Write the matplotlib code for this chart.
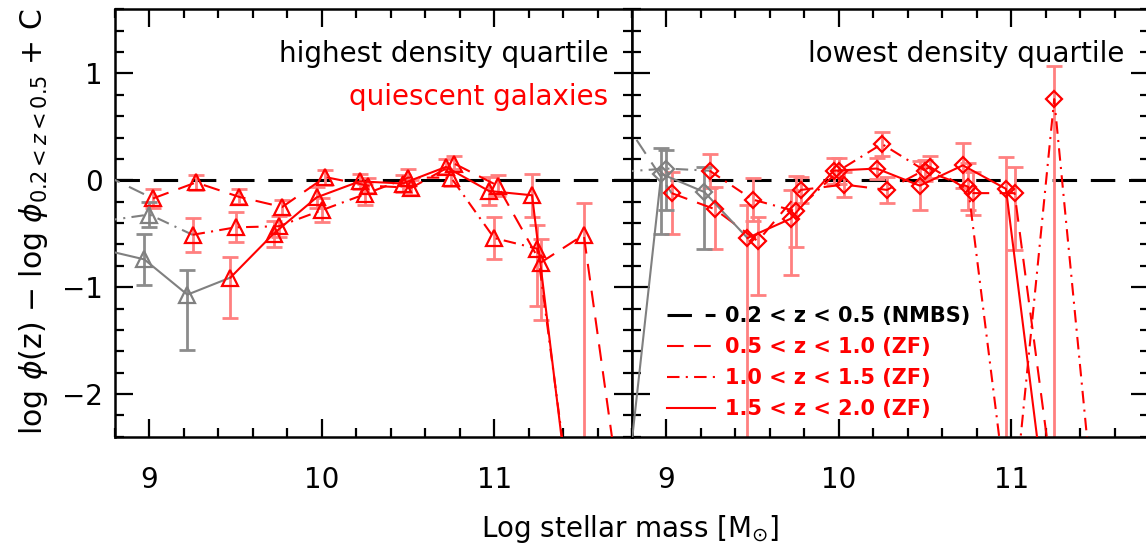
import matplotlib
matplotlib.use('Agg')
import matplotlib.pyplot as plt
import numpy as np
from matplotlib.ticker import MultipleLocator, FixedLocator

plt.rcParams['font.family'] = ['DejaVu Sans']
plt.rcParams['mathtext.fontset'] = 'dejavusans'

# ---------------- data ----------------
series_labels = ['0.5 < z < 1.0 (ZF)', '1.0 < z < 1.5 (ZF)', '1.5 < z < 2.0 (ZF)']
ref_label = '0.2 < z < 0.5 (NMBS)'

# highest density quartile (left panel)
hi_dash_x = [8.74, 9.02, 9.27, 9.52, 9.77, 10.02, 10.27, 10.52, 10.77, 11.02, 11.27, 11.52, 11.77]
hi_dash_y = [0.05, -0.17, -0.02, -0.155, -0.25, 0.03, -0.05, -0.07, 0.155, -0.05, -0.77, -0.51, -3.4]
hi_dash_lo = [0.1, 0.09, 0.07, 0.07, 0.07, 0.07, 0.07, 0.07, 0.07, 0.1, 0.54, 3.0, 0.3]
hi_dash_hi = [0.1, 0.09, 0.07, 0.07, 0.07, 0.07, 0.07, 0.07, 0.07, 0.1, 0.22, 0.30, 0.3]
hi_dash_gray = [1, 0, 0, 0, 0, 0, 0, 0, 0, 0, 0, 0, 0]

hi_dd_x = [8.74, 9.0, 9.25, 9.5, 9.75, 10.0, 10.25, 10.5, 10.75, 11.0, 11.25, 11.5]
hi_dd_y = [-0.38, -0.32, -0.51, -0.44, -0.43, -0.28, -0.13, 0.025, 0.025, -0.54, -0.64, -3.7]
hi_dd_lo = [0.1, 0.12, 0.16, 0.14, 0.1, 0.11, 0.1, 0.08, 0.08, 0.2, 0.54, 0.3]
hi_dd_hi = [0.1, 0.12, 0.16, 0.14, 0.1, 0.11, 0.1, 0.08, 0.08, 0.2, 0.22, 0.3]
hi_dd_gray = [1, 1, 0, 0, 0, 0, 0, 0, 0, 0, 0, 0]

hi_sol_x = [8.72, 8.97, 9.22, 9.47, 9.72, 9.97, 10.22, 10.47, 10.72, 10.97, 11.22, 11.47]
hi_sol_y = [-0.645, -0.74, -1.07, -0.91, -0.5, -0.16, -0.01, -0.03, 0.125, -0.1, -0.14, -3.45]
hi_sol_lo = [0.1, 0.24, 0.52, 0.38, 0.12, 0.1, 0.07, 0.08, 0.07, 0.13, 0.2, 0.3]
hi_sol_hi = [0.1, 0.24, 0.23, 0.19, 0.12, 0.1, 0.07, 0.08, 0.07, 0.13, 0.2, 0.3]
hi_sol_gray = [1, 1, 1, 0, 0, 0, 0, 0, 0, 0, 0, 0]

# lowest density quartile (right panel)
lo_dash_x = [8.74, 9.03, 9.28, 9.53, 9.78, 10.03, 10.28, 10.53, 10.78, 11.02, 11.28]
lo_dash_y = [0.59, -0.12, -0.27, -0.57, -0.09, -0.04, -0.09, 0.125, -0.12, -0.12, -3.3]
lo_dash_lo = [0.1, 0.38, 0.37, 0.5, 0.12, 0.12, 0.12, 0.1, 0.2, 0.53, 0.3]
lo_dash_hi = [0.1, 0.2, 0.21, 0.23, 0.12, 0.12, 0.12, 0.1, 0.2, 0.24, 0.3]
lo_dash_gray = [1, 0, 0, 0, 0, 0, 0, 0, 0, 0, 0]

lo_dd_x = [8.74, 9.0, 9.25, 9.5, 9.75, 10.0, 10.25, 10.5, 10.75, 11.0, 11.25, 11.5]
lo_dd_y = [0.08, 0.11, 0.09, -0.18, -0.29, 0.09, 0.34, 0.09, -0.06, -3.3, 0.76, -3.4]
lo_dd_lo = [0.1, 0.39, 0.16, 0.2, 0.33, 0.12, 0.11, 0.1, 0.22, 0.3, 3.5, 0.3]
lo_dd_hi = [0.1, 0.17, 0.16, 0.2, 0.33, 0.12, 0.11, 0.1, 0.22, 0.3, 0.31, 0.3]
lo_dd_gray = [1, 1, 0, 0, 0, 0, 0, 0, 0, 0, 0, 0]

lo_sol_x = [8.72, 8.97, 9.22, 9.47, 9.72, 9.97, 10.22, 10.47, 10.72, 10.97, 11.22]
lo_sol_y = [-3.6, 0.06, -0.11, -0.54, -0.36, 0.09, 0.11, -0.05, 0.14, -0.08, -3.3]
lo_sol_lo = [0.3, 0.56, 0.53, 3.0, 0.53, 0.12, 0.1, 0.23, 0.21, 3.0, 0.3]
lo_sol_hi = [0.3, 0.24, 0.23, 0.31, 0.27, 0.12, 0.1, 0.23, 0.21, 0.30, 0.3]
lo_sol_gray = [1, 1, 1, 0, 0, 0, 0, 0, 0, 0, 0]

x_ticks = [9, 10, 11]
x_ticklabels = ['9', '10', '11']
y_ticks = [-2, -1, 0, 1]
y_ticklabels = ['\u22122', '\u22121', '0', '1']

# ---------------- style ----------------
RED = '#ff0000'
RED_ERR = '#ff8080'
GRAY = '#808080'
GRAY_ERR = '#8c8c8c'
LS_DASH = (0, (8, 5))
LS_DD = (0, (6, 3, 1, 3))
LS_SOL = '-'
LW = 1.5

W, H = 1146, 544
fig = plt.figure(figsize=(W / 100, H / 100), dpi=100)
top_px, bot_px = 9.3, 436.8
ax_l = fig.add_axes([115 / W, 1 - bot_px / H, 517 / W, (bot_px - top_px) / H])
ax_r = fig.add_axes([632 / W, 1 - bot_px / H, 517 / W, (bot_px - top_px) / H])


def draw_series(ax, x, y, lo, hi, gray, ls, marker, ms):
    x = np.array(x, float); y = np.array(y, float)
    lo = np.array(lo, float); hi = np.array(hi, float)
    g = np.array(gray, bool)
    k = int(np.argmax(~g))
    for mask, ec in ((g, GRAY_ERR), (~g, RED_ERR)):
        if mask.any():
            ax.errorbar(x[mask], y[mask], yerr=[lo[mask], hi[mask]], fmt='none',
                        ecolor=ec, elinewidth=2.0, capsize=5.5, capthick=2.0, zorder=2)
    ax.plot(x[:k + 1], y[:k + 1], color=GRAY, ls=ls, lw=LW, zorder=3)
    line, = ax.plot(x[k:], y[k:], color=RED, ls=ls, lw=LW, zorder=3)
    ax.plot(x[g], y[g], ls='none', marker=marker, ms=ms, mfc='none', mec=GRAY, mew=1.6, zorder=4)
    ax.plot(x[~g], y[~g], ls='none', marker=marker, ms=ms, mfc='none', mec=RED, mew=1.6, zorder=4)
    return line


handles = []
for ax, data, marker, ms in (
        (ax_l, [(hi_dash_x, hi_dash_y, hi_dash_lo, hi_dash_hi, hi_dash_gray, LS_DASH),
                (hi_dd_x, hi_dd_y, hi_dd_lo, hi_dd_hi, hi_dd_gray, LS_DD),
                (hi_sol_x, hi_sol_y, hi_sol_lo, hi_sol_hi, hi_sol_gray, LS_SOL)], '^', 11),
        (ax_r, [(lo_dash_x, lo_dash_y, lo_dash_lo, lo_dash_hi, lo_dash_gray, LS_DASH),
                (lo_dd_x, lo_dd_y, lo_dd_lo, lo_dd_hi, lo_dd_gray, LS_DD),
                (lo_sol_x, lo_sol_y, lo_sol_lo, lo_sol_hi, lo_sol_gray, LS_SOL)], 'D', 8)):
    ref = ax.axhline(0, color='black', lw=2.2, ls=(0, (8, 4.5)), zorder=1)
    lines = [draw_series(ax, *d, marker, ms) for d in data]
    if ax is ax_r:
        handles = [ref] + lines
    ax.set_xlim(8.8, 11.8)
    ax.set_ylim(-2.4, 1.6)
    ax.xaxis.set_major_locator(FixedLocator(x_ticks))
    ax.set_xticklabels(x_ticklabels)
    ax.xaxis.set_minor_locator(MultipleLocator(0.2))
    ax.yaxis.set_major_locator(FixedLocator(y_ticks))
    ax.yaxis.set_minor_locator(MultipleLocator(0.2))
    ax.tick_params(which='both', direction='in', top=True, right=True, width=1.6, color='black')
    ax.tick_params(which='major', length=13)
    ax.tick_params(which='minor', length=6.5)
    ax.tick_params(axis='x', labelsize=20, pad=21)
    ax.tick_params(axis='y', labelsize=20, pad=9)
    for sp in ax.spines.values():
        sp.set_linewidth(1.8)

ax_l.set_yticklabels(y_ticklabels)
ax_r.tick_params(axis='y', labelleft=False)

ax_l.text(0.954, 0.895, 'highest density quartile', transform=ax_l.transAxes,
          ha='right', va='center', fontsize=20, color='black')
ax_l.text(0.954, 0.794, 'quiescent galaxies', transform=ax_l.transAxes,
          ha='right', va='center', fontsize=20, color=RED)
ax_r.text(0.952, 0.895, 'lowest density quartile', transform=ax_r.transAxes,
          ha='right', va='center', fontsize=20, color='black')

ax_r.legend(handles, [ref_label] + series_labels, loc='upper left',
            bbox_to_anchor=(0.0677, 0.305), frameon=False, borderpad=0, borderaxespad=0,
            handlelength=2.3, handletextpad=0.5, labelspacing=0.52,
            prop={'weight': 'bold', 'size': 15}, labelcolor='linecolor')

fig.text(630 / W, 1 - 537 / H, 'Log stellar mass [M$_{{\\odot}}$]', ha='center', va='baseline', fontsize=20)
fig.text(34 / W, 1 - 222 / H, 'log $\\phi$(z) \u2212 log $\\phi_{0.2{<}z{<}0.5}$ + C', rotation=90,
         ha='center', va='center', fontsize=21.5)

fig.savefig('out.png', dpi=100)
